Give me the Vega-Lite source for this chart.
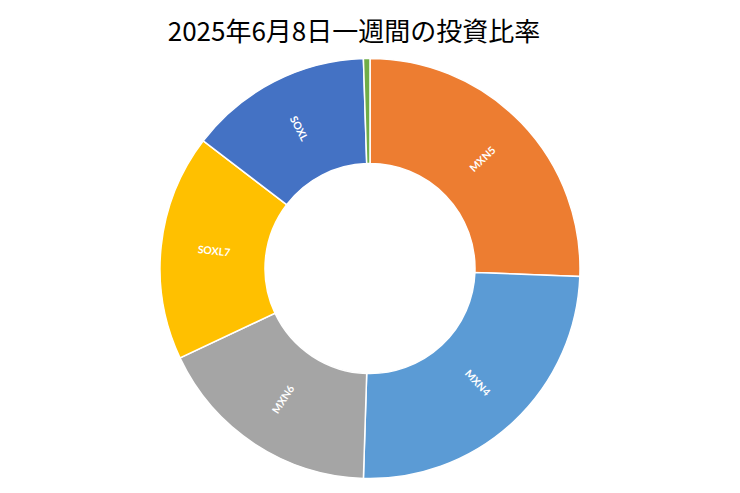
{
  "$schema": "https://vega.github.io/schema/vega-lite/v6.json",
  "width": 740,
  "height": 493,
  "autosize": {"type": "fit", "contains": "padding"},
  "padding": {"top": 20, "bottom": 0, "left": 0, "right": 0},
  "background": "white",
  "title": {
    "text": "2025年6月8日一週間の投資比率",
    "font": "Noto Sans CJK JP",
    "fontSize": 26,
    "fontWeight": "normal",
    "color": "#000000",
    "anchor": "middle",
    "dx": -16,
    "offset": -2
  },
  "data": {
    "values": [
      {"name": "MXN5", "value": 25.6, "order": 1},
      {"name": "MXN4", "value": 24.9, "order": 2},
      {"name": "MXN6", "value": 17.5, "order": 3},
      {"name": "SOXL7", "value": 17.4, "order": 4},
      {"name": "SOXL", "value": 14.1, "order": 5},
      {"name": "その他", "value": 0.5, "order": 6}
    ]
  },
  "transform": [
    {"stack": "value", "groupby": [], "sort": [{"field": "order"}], "as": ["v0", "v1"]},
    {"joinaggregate": [{"op": "sum", "field": "value", "as": "total"}]},
    {"calculate": "(datum.v0 + datum.v1) / 2", "as": "mid"},
    {"calculate": "datum.mid / datum.total < 0.5 ? datum.mid / datum.total * 360 - 90 : datum.mid / datum.total * 360 - 270", "as": "rot"}
  ],
  "layer": [
    {
      "mark": {"type": "arc", "innerRadius": 105, "outerRadius": 210, "stroke": "white", "strokeWidth": 1.5},
      "encoding": {
        "theta": {"field": "v0", "type": "quantitative", "stack": null, "scale": {"domain": [0, 100]}},
        "theta2": {"field": "v1"},
        "color": {
          "field": "name",
          "type": "nominal",
          "scale": {
            "domain": ["MXN5", "MXN4", "MXN6", "SOXL7", "SOXL", "その他"],
            "range": ["#ED7D31", "#5B9BD5", "#A5A5A5", "#FFC000", "#4472C4", "#70AD47"]
          },
          "legend": null
        }
      }
    },
    {
      "transform": [{"filter": "datum.value > 1"}],
      "mark": {"type": "text", "radius": 157, "font": "Lato", "fontSize": 10.5, "fontWeight": "bold", "color": "white", "align": "center", "baseline": "middle"},
      "encoding": {
        "theta": {"field": "mid", "type": "quantitative", "stack": null},
        "text": {"field": "name", "type": "nominal"},
        "angle": {"field": "rot", "type": "quantitative", "scale": null}
      }
    }
  ]
}
